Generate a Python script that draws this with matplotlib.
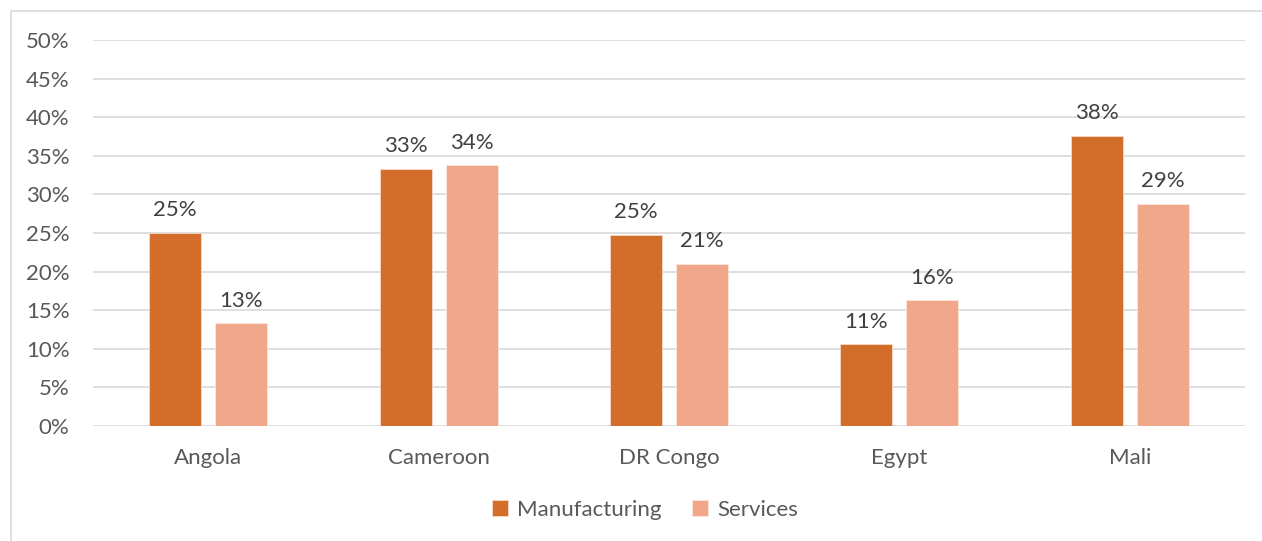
import matplotlib
matplotlib.use("Agg")
import matplotlib.pyplot as plt
from matplotlib.patches import Rectangle
import numpy as np

categories = ["Angola", "Cameroon", "DR Congo", "Egypt", "Mali"]
manufacturing = [25.0, 33.3, 24.8, 10.6, 37.6]
services = [13.3, 33.8, 21.0, 16.3, 28.8]
yticks = [0, 5, 10, 15, 20, 25, 30, 35, 40, 45, 50]

plt.rcParams['font.family'] = ['Lato', 'DejaVu Sans']

fig = plt.figure(figsize=(12.62, 5.41), dpi=100)
W, H = 1262, 541
ax = fig.add_axes([93 / W, 1 - 426 / H, (1245 - 93) / W, (426 - 40) / H])

# chart border
fig.patches.append(Rectangle((11 / W, -0.01), 1.02, 1 - 11 / H + 0.01, transform=fig.transFigure,
                             fill=False, edgecolor='#D9D9D9', linewidth=1.2))

x = np.arange(len(categories))
bw = 0.226
off = 0.143
c_m = '#D26E2A'
c_s = '#F1A88A'
b1 = ax.bar(x - off, manufacturing, bw, color=c_m, edgecolor='#F4D9C8', linewidth=0.6, label='Manufacturing', zorder=3)
b2 = ax.bar(x + off, services, bw, color=c_s, edgecolor='#FBE5DA', linewidth=0.6, label='Services', zorder=3)

fs = 16
for rects, vals in ((b1, manufacturing), (b2, services)):
    for r, v in zip(rects, vals):
        ax.annotate(f"{round(v):.0f}%", (r.get_x() + r.get_width() / 2, v), xytext=(0, 9),
                    textcoords='offset points', ha='center', va='bottom', fontsize=fs, color='#404040')

ax.set_xlim(-0.5, len(categories) - 0.5)
ax.set_ylim(0, 50)
ax.set_yticks(yticks)
ax.set_yticklabels([f"{t}%" for t in yticks])
ax.set_xticks(x)
ax.set_xticklabels(categories)
ax.tick_params(axis='both', length=0, labelsize=fs, labelcolor='#595959')
ax.tick_params(axis='y', pad=17)
ax.tick_params(axis='x', pad=16)
ax.grid(axis='y', color='#D9D9D9', linewidth=1.2, zorder=0)
ax.set_axisbelow(True)
for s in ax.spines.values():
    s.set_visible(False)

leg = fig.legend(handles=[b1, b2], labels=['Manufacturing', 'Services'], loc='center',
                 bbox_to_anchor=(645 / W, 1 - 510 / H), ncol=2, frameon=False, fontsize=fs,
                 handlelength=0.7, handleheight=0.7, handletextpad=0.4, columnspacing=1.4)
for t in leg.get_texts():
    t.set_color('#595959')

fig.savefig('out.png', dpi=100)
